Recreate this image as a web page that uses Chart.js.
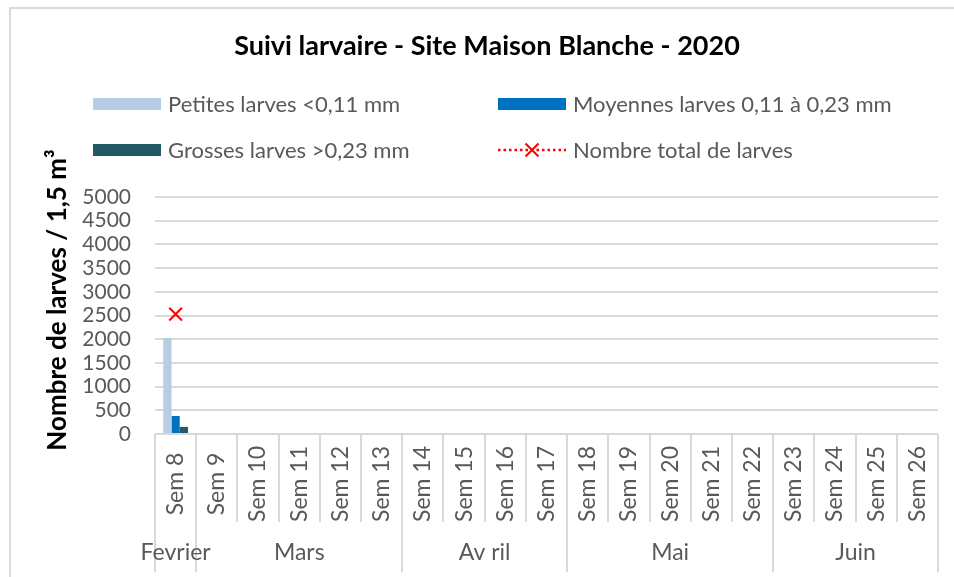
<!DOCTYPE html>
<html>
<head>
<meta charset="utf-8">
<script src="https://cdn.jsdelivr.net/npm/chart.js@4"></script>
<style>
  html, body { margin: 0; padding: 0; background: #fff; }
  #wrap { width: 954px; height: 577px; }
</style>
</head>
<body>
<div id="wrap"><canvas id="chart" width="954" height="577"></canvas></div>
<script>
// Données
const semaines = ['Sem 8', 'Sem 9', 'Sem 10', 'Sem 11', 'Sem 12', 'Sem 13', 'Sem 14', 'Sem 15', 'Sem 16',
  'Sem 17', 'Sem 18', 'Sem 19', 'Sem 20', 'Sem 21', 'Sem 22', 'Sem 23', 'Sem 24', 'Sem 25', 'Sem 26'];
const mois = ['Fevrier', 'Mars', 'Av ril', 'Mai', 'Juin'];
const semainesParMois = [1, 5, 4, 5, 4];
const petites = [2025, null, null, null, null, null, null, null, null, null, null, null, null, null, null, null, null, null, null];
const moyennes = [380, null, null, null, null, null, null, null, null, null, null, null, null, null, null, null, null, null, null];
const grosses = [150, null, null, null, null, null, null, null, null, null, null, null, null, null, null, null, null, null, null];
const total = [2530, null, null, null, null, null, null, null, null, null, null, null, null, null, null, null, null, null, null];
const yTicks = [0, 500, 1000, 1500, 2000, 2500, 3000, 3500, 4000, 4500, 5000];

const FONT = 'Lato';
const GRIS = '#595959';
const TRAIT = '#d9d9d9';

// Plugin pour le fond, le titre, la légende et les étiquettes de l'axe X
const decorPlugin = {
  id: 'decor',
  beforeDraw(chart) {
    const ctx = chart.ctx;
    ctx.save();
    ctx.fillStyle = '#fff';
    ctx.fillRect(0, 0, chart.width, chart.height);
    ctx.strokeStyle = TRAIT;
    ctx.lineWidth = 2;
    ctx.strokeRect(10, 8, chart.width + 20, chart.height + 20);
    ctx.restore();
  },
  afterDraw(chart) {
    const ctx = chart.ctx;
    const xs = chart.scales.x;
    const area = chart.chartArea;
    ctx.save();

    // Titre
    ctx.fillStyle = '#000';
    ctx.font = 'bold 27px ' + FONT;
    ctx.textAlign = 'center';
    ctx.textBaseline = 'middle';
    ctx.fillText('Suivi larvaire - Site Maison Blanche - 2020', 487, 46);

    // Légende (2 colonnes)
    const pos = [[93, 104], [498, 104], [93, 150], [498, 150]];
    ctx.font = '22px ' + FONT;
    ctx.textAlign = 'left';
    chart.data.datasets.forEach((ds, i) => {
      const [lx, ly] = pos[i];
      if (ds.type === 'line') {
        ctx.strokeStyle = ds.borderColor;
        ctx.lineWidth = 2.5;
        ctx.setLineDash([2.5, 3]);
        ctx.beginPath();
        ctx.moveTo(lx, ly);
        ctx.lineTo(lx + 68, ly);
        ctx.stroke();
        ctx.setLineDash([]);
        ctx.lineWidth = 2;
        const cx = lx + 34, r = 6.5;
        ctx.beginPath();
        ctx.moveTo(cx - r, ly - r); ctx.lineTo(cx + r, ly + r);
        ctx.moveTo(cx + r, ly - r); ctx.lineTo(cx - r, ly + r);
        ctx.stroke();
      } else {
        ctx.fillStyle = ds.backgroundColor;
        ctx.fillRect(lx, ly - 6, 68, 12);
      }
      ctx.fillStyle = GRIS;
      ctx.fillText(ds.label, lx + 75, ly + 1);
    });

    // Titre de l'axe Y
    ctx.save();
    ctx.translate(58, 300);
    ctx.rotate(-Math.PI / 2);
    ctx.fillStyle = '#000';
    ctx.font = 'bold 26px ' + FONT;
    ctx.textAlign = 'center';
    ctx.textBaseline = 'middle';
    ctx.fillText('Nombre de larves / 1,5 m³', 0, 0);
    ctx.restore();

    // Étiquettes des semaines et séparateurs
    const n = semaines.length;
    const w = (xs.right - xs.left) / n;
    const bornesMois = [0];
    semainesParMois.forEach(c => bornesMois.push(bornesMois[bornesMois.length - 1] + c));
    ctx.strokeStyle = TRAIT;
    ctx.lineWidth = 2;
    for (let i = 0; i <= n; i++) {
      const bx = Math.round(xs.left + i * w);
      const bas = bornesMois.includes(i) ? 572 : 522;
      ctx.beginPath();
      ctx.moveTo(bx, area.bottom);
      ctx.lineTo(bx, bas);
      ctx.stroke();
    }
    ctx.fillStyle = GRIS;
    ctx.font = '23px ' + FONT;
    semaines.forEach((s, i) => {
      const cx = xs.getPixelForValue(i);
      ctx.save();
      ctx.translate(cx, 484);
      ctx.rotate(-Math.PI / 2);
      ctx.textAlign = 'center';
      ctx.textBaseline = 'middle';
      ctx.fillText(s, 0, 0);
      ctx.restore();
    });

    // Étiquettes des mois
    ctx.font = '23px ' + FONT;
    ctx.textAlign = 'center';
    ctx.textBaseline = 'middle';
    mois.forEach((m, j) => {
      const x0 = xs.left + bornesMois[j] * w;
      const x1 = xs.left + bornesMois[j + 1] * w;
      ctx.fillText(m, (x0 + x1) / 2, 553);
    });
    ctx.restore();
  }
};

new Chart(document.getElementById('chart').getContext('2d'), {
  type: 'bar',
  data: {
    labels: semaines,
    datasets: [
      { label: 'Petites larves <0,11 mm', data: petites, backgroundColor: '#b8cce4', order: 2 },
      { label: 'Moyennes larves 0,11 à 0,23 mm', data: moyennes, backgroundColor: '#0070c0', order: 2 },
      { label: 'Grosses larves >0,23 mm', data: grosses, backgroundColor: '#215967', order: 2 },
      {
        type: 'line', label: 'Nombre total de larves', data: total,
        borderColor: '#ff0000', backgroundColor: '#ff0000', borderWidth: 2, borderDash: [2, 3],
        pointStyle: 'crossRot', pointRadius: 9, pointBorderWidth: 2, order: 0
      }
    ]
  },
  options: {
    responsive: false,
    animation: false,
    layout: { padding: { top: 197, right: 16, bottom: 0, left: 0 } },
    datasets: { bar: { categoryPercentage: 0.6, barPercentage: 1.0 } },
    plugins: {
      legend: { display: false },
      title: { display: false },
      tooltip: { enabled: false }
    },
    scales: {
      x: {
        offset: true,
        grid: { display: false },
        border: { display: false },
        ticks: { display: false },
        afterFit(scale) { scale.height = 143; }
      },
      y: {
        min: 0,
        max: 5000,
        afterBuildTicks(scale) { scale.ticks = yTicks.map(v => ({ value: v })); },
        grid: { color: TRAIT, lineWidth: 2, drawTicks: false },
        border: { display: false },
        ticks: {
          color: GRIS, font: { family: FONT, size: 21 }, padding: 24, autoSkip: false,
          callback: v => String(v)
        },
        afterFit(scale) { scale.width = 155; }
      }
    }
  },
  plugins: [decorPlugin]
});
</script>
</body>
</html>
